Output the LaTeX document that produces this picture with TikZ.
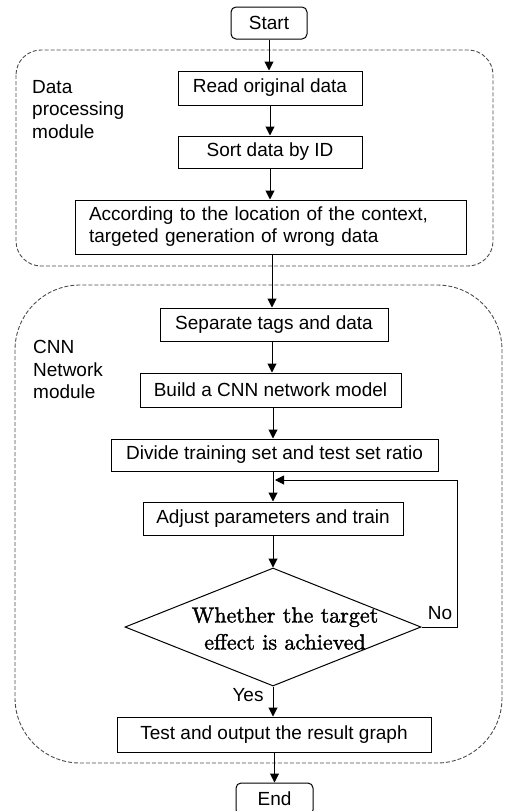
\documentclass[tikz,border=0pt]{standalone}
\usepackage{fontspec}
\setsansfont{Liberation Sans}
\newfontfamily\dfont{lmroman10-regular.otf}[FakeBold=1.6]
\usetikzlibrary{arrows.meta,shapes.geometric}
\begin{document}
\begin{tikzpicture}[x=1pt,y=-1pt,
  txt/.style={font=\sffamily\fontsize{19}{22.5}\selectfont},
  box/.style={draw, line width=1pt, rectangle, inner sep=0pt, txt},
  term/.style={box, rounded corners=5pt},
  arr/.style={-{Triangle[length=9pt,width=9pt]}, line width=1pt},
  module/.style={draw=black!70, line width=0.9pt, dash pattern=on 4pt off 2pt},
  lab/.style={txt, inner sep=0pt}]
\useasboundingbox (0,0) rectangle (504,811);
% module frames
\draw[module, rounded corners=25pt] (16,50) rectangle (493,266);
\draw[module, rounded corners=65pt] (15,285) rectangle (502,763);
\node[lab, anchor=west, align=left] (dpm) at (32,109.5) {Data\\processing\\module};
\node[lab, anchor=west, align=left] (cnm) at (33,369.5) {CNN\\Network\\module};
% nodes
\node[term, minimum width=76pt, minimum height=32pt] (start) at (269,23) {Start};
\node[box, minimum width=184pt, minimum height=34pt] (read) at (270,88) {Read original data};
\node[box, minimum width=184pt, minimum height=32pt] (sort) at (270,152) {Sort data by ID};
\node[box, minimum width=391pt, minimum height=54pt, text width=363pt, align=left, font=\sffamily\fontsize{19}{22}\selectfont] (gen) at (270.5,227) {According to the location of the context,\\targeted generation of wrong data};
\node[box, minimum width=228pt, minimum height=33pt] (sep) at (274,324.5) {Separate tags and data};
\node[box, minimum width=261pt, minimum height=34pt] (build) at (270.5,390) {Build a CNN network model};
\node[box, minimum width=327pt, minimum height=32pt] (div) at (274.5,455) {Divide training set and test set ratio};
\node[box, minimum width=260pt, minimum height=33pt] (adj) at (273,518.5) {Adjust parameters and train};
\node[draw, diamond, line width=1pt, minimum width=296pt, minimum height=118pt, inner sep=0pt] (dec) at (273,627) {};
\node[font=\dfont\fontsize{22}{27}\selectfont, align=center, inner sep=0pt] (dtext) at (285,628.5) {Whether the target\\effect is achieved};
\node[box, minimum width=314pt, minimum height=35pt] (test) at (274,734.5) {Test and output the result graph};
\node[term, minimum width=77pt, minimum height=32pt] (end) at (274.5,799) {End};
\node[lab] (no) at (440,613) {No};
\node[lab] (yes) at (248,695) {Yes};
% connectors
\draw[arr] (start.south) -- (start.south |- read.north);
\draw[arr] (read.south) -- (read.south |- sort.north);
\draw[arr] (sort.south) -- (sort.south |- gen.north);
\coordinate (g1) at (272,254);
\draw[arr] (gen.south -| g1) -- (g1 |- sep.north);
\coordinate (s1) at (272,341);
\draw[arr] (sep.south -| s1) -- (s1 |- build.north);
\coordinate (b1) at (273,407);
\draw[arr] (build.south -| b1) -- (b1 |- div.north);
\draw[arr] (div.south -| adj.north) -- (adj.north);
\draw[arr] (adj.south) -- (dec.north);
\draw[arr] (dec.south) -- (dec.south |- test.north);
\draw[arr] (test.south -| end.north) -- (end.north);
\coordinate (fbr) at (457,627);
\coordinate (fbt) at (457,480);
\coordinate (fbend) at (275,480);
\draw[arr] (dec.east) -- (fbr) -- (fbt) -- (fbend);
\end{tikzpicture}
\end{document}
